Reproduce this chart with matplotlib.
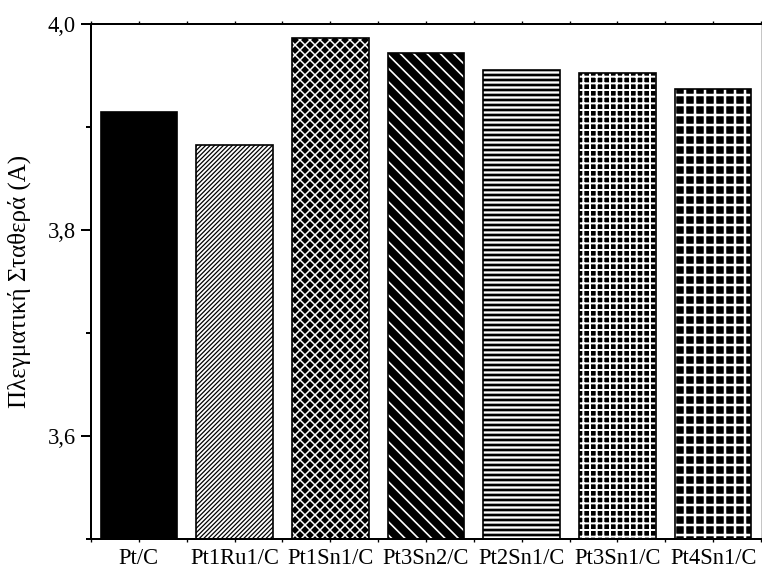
import matplotlib
matplotlib.use('Agg')
import matplotlib.pyplot as plt
from matplotlib.ticker import FixedLocator, FuncFormatter

samples = ['Pt/C', 'Pt1Ru1/C', 'Pt1Sn1/C', 'Pt3Sn2/C', 'Pt2Sn1/C', 'Pt3Sn1/C', 'Pt4Sn1/C']
lattice = [3.915, 3.883, 3.986, 3.972, 3.955, 3.952, 3.937]
# face colour, hatch colour, hatch pattern, hatch line width for each bar
faces = ['black', 'white', 'black', 'black', 'black', 'black', 'black']
hcols = ['black', 'black', 'white', 'white', 'white', 'white', 'white']
hatches = ['', '/' * 9, 'x' * 4, '\\' * 3, '----', '+++', '++']
hlws = [1.0, 0.75, 0.9, 1.0, 1.4, 1.2, 1.5]

plt.rcParams['font.family'] = ['Liberation Serif', 'DejaVu Serif']

fig = plt.figure(figsize=(6.35, 568 / 120), dpi=120)
ax = fig.add_axes([91 / 762, 1 - 539 / 568, 670 / 762, 515 / 568])

x = range(len(samples))
for i in x:
    plt.rcParams['hatch.linewidth'] = hlws[i]
    b = ax.bar(i, lattice[i], width=0.8, color=faces[i], edgecolor=hcols[i],
               hatch=hatches[i] or None, linewidth=0)
    for p in b:
        if hasattr(p, 'set_hatch_linewidth'):
            p.set_hatch_linewidth(hlws[i])
    ax.bar(i, lattice[i], width=0.8, facecolor='none', edgecolor='black', linewidth=1.0)

ax.set_xlim(-0.5, 6.5)
ax.set_ylim(3.5, 4.0)
ax.set_xticks(list(x))
ax.set_xticklabels(samples, fontsize=13.5)
ax.xaxis.set_minor_locator(FixedLocator([i + 0.5 for i in range(-1, 7)]))
ax.set_yticks([3.6, 3.8, 4.0])
ax.yaxis.set_minor_locator(FixedLocator([3.5, 3.7, 3.9]))
ax.yaxis.set_major_formatter(FuncFormatter(lambda v, p: f'{v:.1f}'.replace('.', ',')))
ax.tick_params(axis='y', which='major', length=6, width=1.2, labelsize=13.5, pad=3)
ax.tick_params(axis='y', which='minor', length=3, width=1.2)
ax.tick_params(axis='x', which='both', length=2, width=0.8, top=True, direction='out', pad=3.5)
ax.set_ylabel('Πλεγματική Σταθερά (A)', fontsize=15, labelpad=10)
for s in ax.spines.values():
    s.set_linewidth(1.2)
ax.spines['right'].set_linewidth(0.5)
ax.spines['right'].set_color('#bbbbbb')

fig.savefig('out.png', dpi=120)
